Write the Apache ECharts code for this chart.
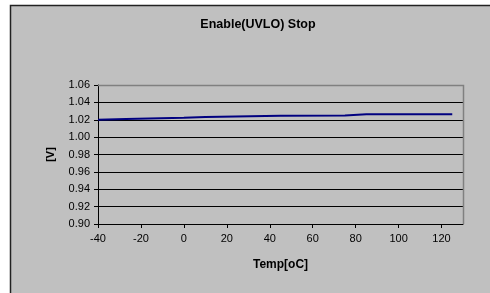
<!DOCTYPE html>
<html>
<head>
<meta charset="utf-8">
<script src="https://cdn.jsdelivr.net/npm/echarts@6/dist/echarts.min.js"></script>
<style>
html, body { margin: 0; padding: 0; background: #fff; }
#main { width: 490px; height: 293px; }
</style>
</head>
<body>
<div id="main"></div>
<script>
var temps = [-40, -27, 0, 10, 45, 75, 85, 125];
var volts = [1.0200, 1.0210, 1.0222, 1.0232, 1.0245, 1.0250, 1.0262, 1.0262];
var xTicks = [-40, -20, 0, 20, 40, 60, 80, 100, 120];

var myChart = echarts.init(document.getElementById('main'));
myChart.setOption({
    backgroundColor: '#fff',
    animation: false,
    graphic: [{
        type: 'rect',
        z: -10,
        shape: { x: 10.5, y: 5.5, width: 500, height: 300 },
        style: { fill: '#c0c0c0', stroke: '#222', lineWidth: 1.5 }
    }, {
        // plot border (top / right in grey)
        type: 'polyline',
        z: 1,
        shape: { points: [[98, 85.5], [463.5, 85.5], [463.5, 224]] },
        style: { stroke: '#808080', lineWidth: 1.5, fill: null }
    }],
    title: {
        text: 'Enable(UVLO) Stop',
        left: 253, top: 13, textAlign: 'center',
        textStyle: { fontFamily: 'Liberation Sans', fontSize: 12.5, fontWeight: 'bold', color: '#000' }
    },
    grid: { left: 98, top: 85, right: 27, bottom: 69 },
    xAxis: {
        type: 'value',
        min: -40, max: 130, interval: 20,
        name: 'Temp[oC]', nameLocation: 'middle', nameGap: 35,
        nameTextStyle: { fontFamily: 'Liberation Sans', fontSize: 12, fontWeight: 'bold', color: '#000' },
        axisLine: { lineStyle: { color: '#000', width: 1 } },
        axisTick: { length: 4, lineStyle: { color: '#000' }, customValues: xTicks },
        axisLabel: { customValues: xTicks, margin: 9, fontFamily: 'Liberation Sans', fontSize: 11, color: '#000' },
        splitLine: { show: false }
    },
    yAxis: {
        type: 'value',
        min: 0.90, max: 1.06, interval: 0.02,
        name: '[V]', nameLocation: 'middle', nameGap: 42, nameRotate: 90,
        nameTextStyle: { fontFamily: 'Liberation Sans', fontSize: 11, fontWeight: 'bold', color: '#000' },
        axisLine: { show: true, onZero: false, lineStyle: { color: '#000', width: 1 } },
        axisTick: { show: true, length: 4, lineStyle: { color: '#000' } },
        axisLabel: { margin: 8, fontFamily: 'Liberation Sans', fontSize: 11, color: '#000',
            formatter: function (v) { return v.toFixed(2); } },
        splitLine: { lineStyle: { color: '#000', width: 1 } }
    },
    series: [{
        type: 'line',
        data: temps.map(function (t, i) { return [t, volts[i]]; }),
        showSymbol: false,
        lineStyle: { color: '#000080', width: 2 },
        z: 3
    }]
});
</script>
</body>
</html>
